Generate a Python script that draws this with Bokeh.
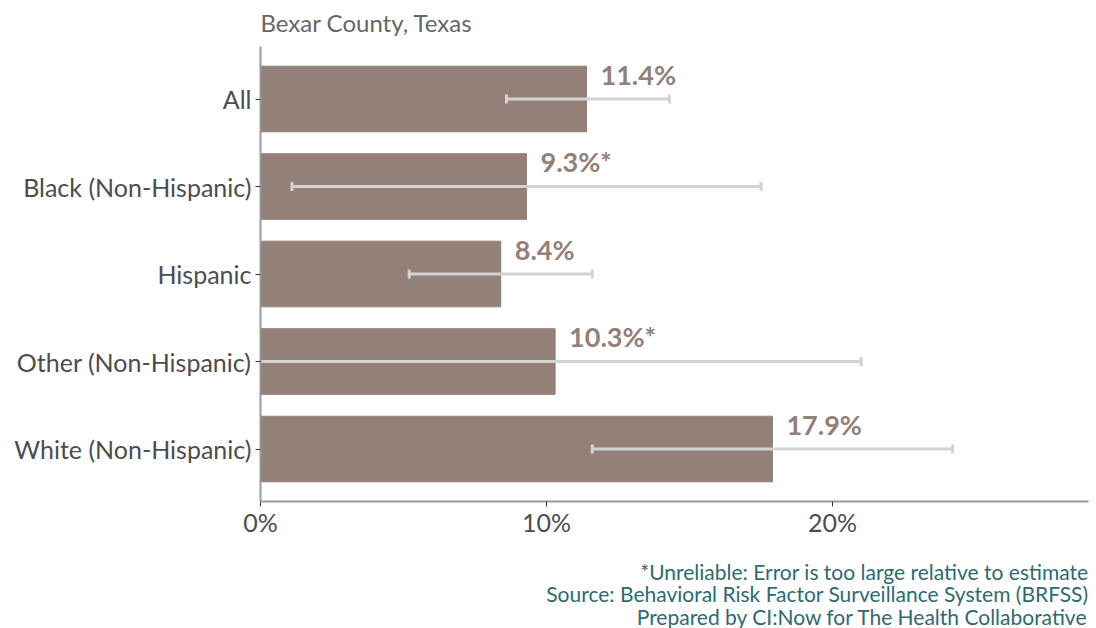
import math
from bokeh.plotting import figure
from bokeh.models import FactorRange, Range1d, Title, ColumnDataSource, FixedTicker, PrintfTickFormatter
from bokeh.core.properties import value
from bokeh.embed import file_html
from bokeh.resources import INLINE

categories = ["All", "Black (Non-Hispanic)", "Hispanic", "Other (Non-Hispanic)", "White (Non-Hispanic)"]
rates = [11.4, 9.3, 8.4, 10.3, 17.9]
lower_ci = [8.6, 1.1, 5.2, -0.4, 11.6]
upper_ci = [14.3, 17.5, 11.6, 21.0, 24.2]
value_labels = ["11.4%", "9.3%*", "8.4%", "10.3%*", "17.9%"]
x_ticks = [0, 10, 20]
subtitle = "Bexar County, Texas"
footnotes = [
    "*Unreliable: Error is too large relative to estimate",
    "Source: Behavioral Risk Factor Surveillance System (BRFSS)",
    "Prepared by CI:Now for The Health Collaborative",
]

FONT = "Lato"
BAR = "#938079"

src = ColumnDataSource(dict(cat=categories, rate=rates, lo=lower_ci, hi=upper_ci, lbl=value_labels))

p = figure(width=1096, height=628,
           y_range=FactorRange(factors=list(reversed(categories)), range_padding=0.04),
           x_range=Range1d(0, 28.95),
           output_backend="svg", toolbar_location=None,
           min_border_left=260, min_border_right=8, min_border_top=46, min_border_bottom=126)
p.outline_line_color = None
p.xgrid.grid_line_color = None
p.ygrid.grid_line_color = None

p.title.text = subtitle
p.title.align = "left"
p.title.vertical_align = "top"
p.title.text_font = FONT
p.title.text_font_size = "24px"
p.title.text_font_style = "normal"
p.title.text_color = "#666666"
p.title.standoff = 15

p.hbar(y="cat", left=0, right="rate", height=0.75, color=BAR, source=src)
p.segment(x0="lo", y0="cat", x1="hi", y1="cat", line_color="#d3d3d3", line_width=3, source=src)
p.scatter(x="lo", y="cat", marker="dash", angle=math.pi / 2, size=9, line_color="#d3d3d3", line_width=3, source=src)
p.scatter(x="hi", y="cat", marker="dash", angle=math.pi / 2, size=9, line_color="#d3d3d3", line_width=3, source=src)

p.text(x="rate", y="cat", text="lbl", x_offset=14, y_offset=-25, text_baseline="middle", text_align="left",
       text_font=value(FONT), text_font_style="bold", text_font_size="27px", text_color=BAR, source=src)

for ax in (p.xaxis[0], p.yaxis[0]):
    ax.axis_line_color = "#999999"
    ax.axis_line_width = 2
    ax.major_tick_line_color = "#333333"
    ax.major_tick_out = 5
    ax.major_tick_in = 0
    ax.minor_tick_line_color = None
    ax.major_label_text_font = FONT
    ax.major_label_text_font_size = "25px"
    ax.major_label_text_color = "#4d4d4d"

p.yaxis[0].major_label_standoff = 4
p.xaxis[0].major_label_standoff = 0
p.xaxis[0].ticker = FixedTicker(ticks=x_ticks)
p.xaxis[0].formatter = PrintfTickFormatter(format="%d%%")
p.xaxis[0].axis_label = " "
p.xaxis[0].axis_label_text_font_size = "18px"
p.xaxis[0].axis_label_standoff = 0

for t, s in zip(footnotes, [-7, -4, -4]):
    p.add_layout(Title(text=t, align="right", vertical_align="top", text_font=FONT, text_font_size="21px",
                       text_font_style="normal", text_color="#2d6b70", standoff=s), "below")

open("out.html", "w").write(file_html(p, INLINE))
